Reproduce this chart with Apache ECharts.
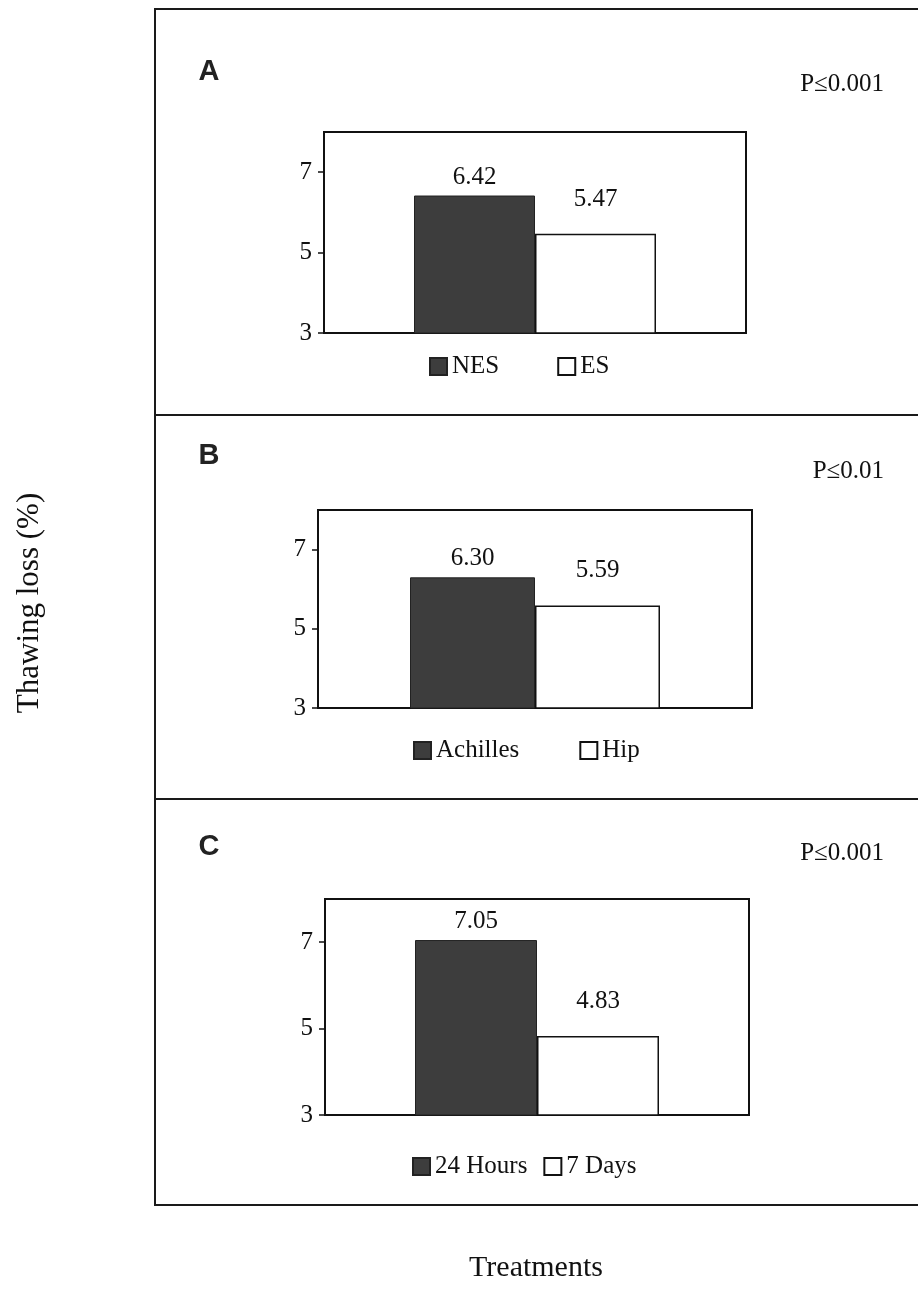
<!DOCTYPE html>
<html>
<head>
<meta charset="utf-8">
<title>Thawing loss</title>
<script src="https://cdn.jsdelivr.net/npm/echarts@6/dist/echarts.min.js"></script>
<style>
  html, body { margin: 0; padding: 0; background: #fff; }
  #chart { width: 918px; height: 1300px; }
</style>
</head>
<body>
<div id="chart"></div>
<script>
// data
const panelLetters = ['A', 'B', 'C']
const pLabels = ['P≤0.001', 'P≤0.01', 'P≤0.001']
const darkNames = ['NES', 'Achilles', '24 Hours']
const lightNames = ['ES', 'Hip', '7 Days']
const darkValues = [6.42, 6.30, 7.05]
const lightValues = [5.47, 5.59, 4.83]
const yTicks = [3, 5, 7]
const yMin = 3
const yMax = 8

// layout of each panel (px)
const grids = [
  { left: 324, top: 132, width: 422, height: 201 },
  { left: 318, top: 510, width: 434, height: 198 },
  { left: 325, top: 899, width: 424, height: 216 }
]
const barWidths = [121, 125, 122]
const legendPos = [
  { left: 429, top: 354, gap: 58 },
  { left: 413, top: 738, gap: 60 },
  { left: 412, top: 1154, gap: 16 }
]
const letterY = [72, 456, 847]
const pY = [84, 471, 853]

const serif = 'Liberation Serif, Times New Roman, serif'
const darkColor = '#3d3d3d'

const chart = echarts.init(document.getElementById('chart'), null, { renderer: 'canvas' })

const option = {
  backgroundColor: '#fff',
  animation: false,
  grid: grids.map(g => ({
    left: g.left,
    top: g.top,
    width: g.width,
    height: g.height,
    show: true,
    borderColor: '#111',
    borderWidth: 2,
    backgroundColor: 'transparent'
  })),
  xAxis: grids.map((g, i) => ({
    type: 'category',
    gridIndex: i,
    data: [''],
    axisLine: { show: false },
    axisTick: { show: false },
    axisLabel: { show: false },
    splitLine: { show: false }
  })),
  yAxis: grids.map((g, i) => ({
    type: 'value',
    gridIndex: i,
    min: yMin,
    max: yMax,
    axisLine: { show: true, lineStyle: { color: '#111', width: 2 } },
    axisTick: {
      show: true,
      length: 6,
      customValues: yTicks,
      lineStyle: { color: '#111', width: 1.5 }
    },
    axisLabel: {
      customValues: yTicks,
      margin: 12,
      color: '#111',
      fontSize: 25,
      fontFamily: serif
    },
    splitLine: { show: false }
  })),
  legend: grids.map((g, i) => ({
    data: [darkNames[i], lightNames[i]],
    left: legendPos[i].left,
    top: legendPos[i].top,
    orient: 'horizontal',
    icon: 'rect',
    itemWidth: 17,
    itemHeight: 17,
    itemGap: legendPos[i].gap,
    padding: 0,
    selectedMode: false,
    textStyle: { color: '#111', fontSize: 25, fontFamily: serif }
  })),
  series: [],
  graphic: []
}

grids.forEach((g, i) => {
  option.series.push({
    name: darkNames[i],
    type: 'bar',
    xAxisIndex: i,
    yAxisIndex: i,
    data: [darkValues[i]],
    barWidth: barWidths[i],
    barGap: '0%',
    itemStyle: { color: darkColor, borderColor: '#222', borderWidth: 1 },
    label: {
      show: true,
      position: 'top',
      distance: 6,
      color: '#111',
      fontSize: 25,
      fontFamily: serif,
      formatter: p => p.value.toFixed(2)
    }
  })
  option.series.push({
    name: lightNames[i],
    type: 'bar',
    xAxisIndex: i,
    yAxisIndex: i,
    data: [lightValues[i]],
    barWidth: barWidths[i],
    barGap: '0%',
    itemStyle: { color: '#fff', borderColor: '#111', borderWidth: 1.5 },
    label: {
      show: true,
      position: 'top',
      distance: 22,
      color: '#111',
      fontSize: 25,
      fontFamily: serif,
      formatter: p => p.value.toFixed(2)
    }
  })
})

// outer frame and panel dividers
option.graphic.push({
  type: 'rect',
  silent: true,
  shape: { x: 155, y: 9, width: 800, height: 1196 },
  style: { fill: 'none', stroke: '#1a1a1a', lineWidth: 2 }
})
;[415, 799].forEach(y => {
  option.graphic.push({
    type: 'line',
    silent: true,
    shape: { x1: 155, y1: y, x2: 918, y2: y },
    style: { stroke: '#1a1a1a', lineWidth: 2 }
  })
})

panelLetters.forEach((t, i) => {
  option.graphic.push({
    type: 'text',
    silent: true,
    x: 209,
    y: letterY[i],
    style: {
      text: t,
      font: 'bold 29px Liberation Sans, Arial, sans-serif',
      fill: '#222',
      align: 'center',
      verticalAlign: 'middle'
    }
  })
  option.graphic.push({
    type: 'text',
    silent: true,
    x: 884,
    y: pY[i],
    style: {
      text: pLabels[i],
      font: '25px ' + serif,
      fill: '#111',
      align: 'right',
      verticalAlign: 'middle'
    }
  })
})

// axis titles
option.graphic.push({
  type: 'text',
  silent: true,
  x: 30,
  y: 603,
  rotation: Math.PI / 2,
  style: {
    text: 'Thawing loss (%)',
    font: '31px ' + serif,
    fill: '#111',
    align: 'center',
    verticalAlign: 'middle'
  }
})
option.graphic.push({
  type: 'text',
  silent: true,
  x: 536,
  y: 1268,
  style: {
    text: 'Treatments',
    font: '30px ' + serif,
    fill: '#111',
    align: 'center',
    verticalAlign: 'middle'
  }
})

chart.setOption(option)
window.addEventListener('resize', () => chart.resize())
</script>
</body>
</html>
